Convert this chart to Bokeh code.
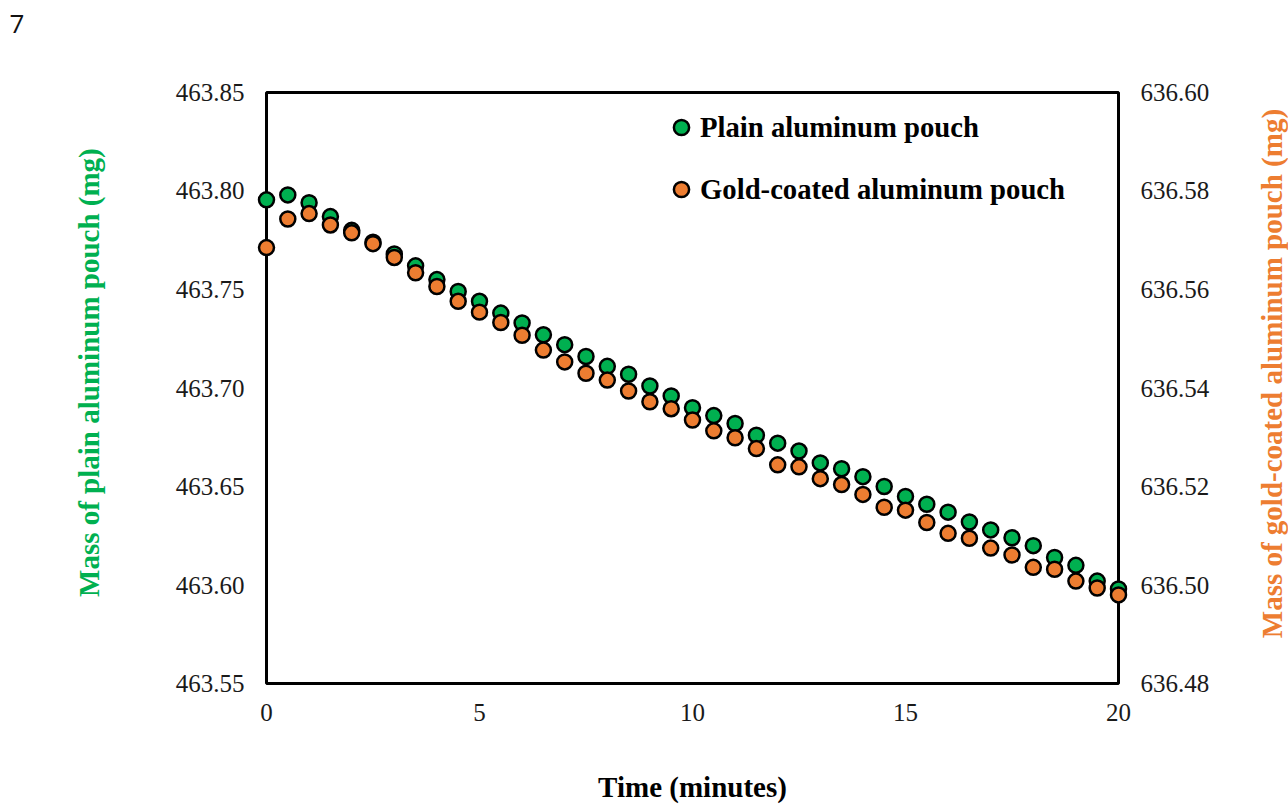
import math
from bokeh.plotting import figure
from bokeh.models import (Range1d, LinearAxis, Legend, LegendItem, FixedTicker,
                          PrintfTickFormatter, Label)
from bokeh.embed import file_html
from bokeh.resources import INLINE

# ---- data ----
time_min = [0.0, 0.5, 1.0, 1.5, 2.0, 2.5, 3.0, 3.5, 4.0, 4.5, 5.0, 5.5, 6.0, 6.5,
            7.0, 7.5, 8.0, 8.5, 9.0, 9.5, 10.0, 10.5, 11.0, 11.5, 12.0, 12.5, 13.0,
            13.5, 14.0, 14.5, 15.0, 15.5, 16.0, 16.5, 17.0, 17.5, 18.0, 18.5, 19.0,
            19.5, 20.0]
plain_mass = [463.7955, 463.798, 463.794, 463.787, 463.780, 463.774, 463.768, 463.762,
              463.755, 463.749, 463.744, 463.738, 463.733, 463.727, 463.722, 463.716,
              463.711, 463.707, 463.701, 463.696, 463.690, 463.686, 463.682, 463.676,
              463.672, 463.668, 463.662, 463.659, 463.655, 463.650, 463.645, 463.641,
              463.637, 463.632, 463.628, 463.624, 463.620, 463.614, 463.610, 463.602,
              463.598]
gold_mass = [636.5685, 636.5743, 636.5754, 636.5731, 636.5715, 636.5693, 636.5665,
             636.5634, 636.5606, 636.5576, 636.5554, 636.5533, 636.5507, 636.5477,
             636.5453, 636.5430, 636.5416, 636.5394, 636.5372, 636.5358, 636.5335,
             636.5313, 636.5299, 636.5277, 636.5244, 636.5240, 636.5216, 636.5204,
             636.5184, 636.5158, 636.5152, 636.5127, 636.5105, 636.5095, 636.5075,
             636.5061, 636.5036, 636.5032, 636.5008, 636.4994, 636.4980]
x_ticks = [0, 5, 10, 15, 20]
left_ticks = [463.55, 463.60, 463.65, 463.70, 463.75, 463.80, 463.85]
right_ticks = [636.48, 636.50, 636.52, 636.54, 636.56, 636.58, 636.60]
series_names = ["Plain aluminum pouch", "Gold-coated aluminum pouch"]
x_label = "Time (minutes)"
left_label = "Mass of plain aluminum pouch (mg)"
right_label = "Mass of gold-coated aluminum pouch (mg)"
page_label = "7"

# axis limits of the boxed chart area
X0, X1 = 0, 20
YL0, YL1 = 463.55, 463.85
YR0, YR1 = 636.48, 636.60

GREEN = "#00B050"
ORANGE = "#ED7D31"
SERIF = "Liberation Serif"

W, H = 1288, 805
BOX_L, BOX_T, BOX_R, BOX_B = 266, 92, 1118, 687   # pixel box of the axes
PAD = 12                                           # room so edge markers are not clipped
FRAME_L, FRAME_T, FRAME_R, FRAME_B = BOX_L - PAD, BOX_T - PAD, BOX_R + PAD, BOX_B + PAD


def px_to_x(px):
    return X0 + (px - BOX_L) * (X1 - X0) / (BOX_R - BOX_L)


def py_to_y(py):
    return YL1 - (py - BOX_T) * (YL1 - YL0) / (BOX_B - BOX_T)


def py_to_yr(py):
    return YR1 - (py - BOX_T) * (YR1 - YR0) / (BOX_B - BOX_T)


p = figure(width=W, height=H, output_backend="svg", toolbar_location=None,
           x_range=Range1d(px_to_x(FRAME_L), px_to_x(FRAME_R)),
           y_range=Range1d(py_to_y(FRAME_B), py_to_y(FRAME_T)),
           min_border_left=FRAME_L, min_border_right=W - FRAME_R,
           min_border_top=FRAME_T, min_border_bottom=H - FRAME_B)
p.extra_y_ranges = {"right": Range1d(py_to_yr(FRAME_B), py_to_yr(FRAME_T))}

p.outline_line_color = None
p.xgrid.visible = False
p.ygrid.visible = False
p.background_fill_color = "white"
p.border_fill_color = "white"


def style_axis(ax, tick_standoff):
    ax.major_label_text_font = SERIF
    ax.major_label_text_font_size = "25px"
    ax.major_label_text_color = "#1a1a1a"
    ax.major_label_standoff = tick_standoff
    ax.axis_line_color = None
    ax.major_tick_line_color = None
    ax.minor_tick_line_color = None
    ax.major_tick_in = 0
    ax.major_tick_out = 0


xax = p.xaxis[0]
xax.ticker = FixedTicker(ticks=x_ticks)
style_axis(xax, 20 - PAD)
xax.axis_label = x_label
xax.axis_label_text_font = SERIF
xax.axis_label_text_font_style = "bold"
xax.axis_label_text_font_size = "29px"
xax.axis_label_text_color = "black"
xax.axis_label_standoff = 47

lax = p.yaxis[0]
lax.ticker = FixedTicker(ticks=left_ticks)
lax.formatter = PrintfTickFormatter(format="%.2f")
style_axis(lax, 22 - PAD)

rax = LinearAxis(y_range_name="right", ticker=FixedTicker(ticks=right_ticks),
                 formatter=PrintfTickFormatter(format="%.2f"))
style_axis(rax, 22 - PAD)
p.add_layout(rax, "right")

# the axes box
p.quad(left=[X0], right=[X1], bottom=[YL0], top=[YL1], fill_color=None,
       line_color="black", line_width=3)

r1 = p.scatter(time_min, plain_mass, size=15, fill_color=GREEN,
               line_color="black", line_width=2.5)
r2 = p.scatter(time_min, gold_mass, size=15, fill_color=ORANGE,
               line_color="black", line_width=2.5, y_range_name="right")

legend = Legend(items=[LegendItem(label=series_names[0], renderers=[r1]),
                       LegendItem(label=series_names[1], renderers=[r2])],
                location=(396 + PAD, 475 + PAD), glyph_width=38, glyph_height=38,
                spacing=24, padding=0, margin=0, label_standoff=-6,
                label_text_font=SERIF, label_text_font_style="bold",
                label_text_font_size="28.7px", label_text_color="black",
                background_fill_alpha=0, border_line_color=None)
p.add_layout(legend)

# vertical axis titles, both reading bottom-to-top
p.add_layout(Label(x=px_to_x(88), y=py_to_y(374), text=left_label, angle=math.pi / 2,
                   text_font=SERIF, text_font_style="bold", text_font_size="29px",
                   text_color=GREEN, text_align="center", text_baseline="middle"),
             "left")
p.add_layout(Label(x=px_to_x(1271), y=py_to_y(375), text=right_label, angle=math.pi / 2,
                   text_font=SERIF, text_font_style="bold", text_font_size="29px",
                   text_color=ORANGE, text_align="center", text_baseline="middle"),
             "right")

# page number in the top-left corner
p.add_layout(Label(x=px_to_x(9), y=py_to_y(23), text=page_label,
                   text_font="Open Sans", text_font_size="26px",
                   text_align="left", text_baseline="middle", text_color="#111111"),
             "above")

open("out.html", "w").write(file_html(p, INLINE))
